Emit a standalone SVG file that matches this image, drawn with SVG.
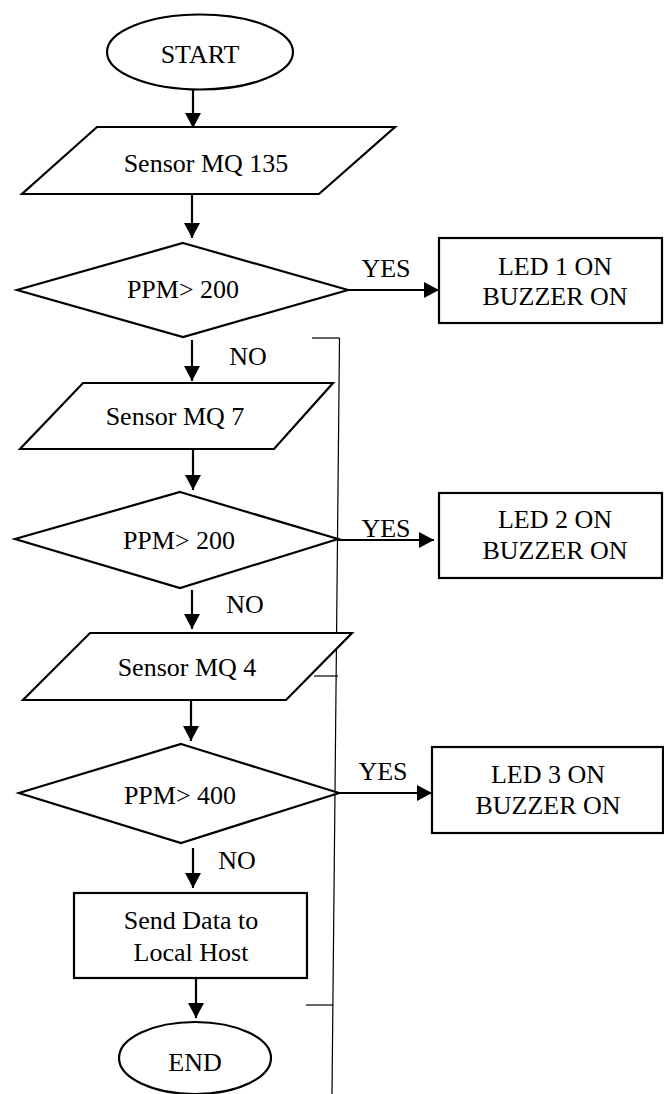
<svg xmlns="http://www.w3.org/2000/svg" width="664" height="1094" viewBox="0 0 664 1094">
<style>
.s{fill:#fff;stroke:#000;stroke-width:2.2}
.c{stroke:#000;stroke-width:2.2;fill:none}
.thin{stroke:#000;stroke-width:1.2;fill:none}
</style>
<defs>
<marker id="ah" markerUnits="userSpaceOnUse" markerWidth="16" markerHeight="16" viewBox="0 0 16 16" refX="15" refY="8" orient="auto">
<path d="M0,0 L15,8 L0,16 Z" fill="#000"/>
</marker>
</defs>
<rect width="664" height="1094" fill="#fff"/>
<g font-family="'Liberation Serif', 'Times New Roman', 'DejaVu Serif', serif" font-size="26" fill="#000" text-anchor="middle">
<g id="connectors">
<line class="c" x1="193" y1="90" x2="193" y2="128" marker-end="url(#ah)"/>
<line class="c" x1="192" y1="194" x2="192" y2="238" marker-end="url(#ah)"/>
<line class="c" x1="348" y1="290" x2="439" y2="290" marker-end="url(#ah)"/>
<line class="c" x1="192" y1="340" x2="192" y2="381" marker-end="url(#ah)"/>
<line class="c" x1="193" y1="449" x2="193" y2="490" marker-end="url(#ah)"/>
<line class="c" x1="338" y1="540" x2="434" y2="540" marker-end="url(#ah)"/>
<line class="c" x1="192" y1="590" x2="192" y2="629" marker-end="url(#ah)"/>
<line class="c" x1="191" y1="700" x2="191" y2="741" marker-end="url(#ah)"/>
<line class="c" x1="339" y1="793" x2="432" y2="793" marker-end="url(#ah)"/>
<line class="c" x1="193" y1="848" x2="193" y2="888" marker-end="url(#ah)"/>
<line class="c" x1="196" y1="978" x2="196" y2="1018" marker-end="url(#ah)"/>
<text x="386" y="277">YES</text>
<text x="386" y="537">YES</text>
<text x="383" y="780">YES</text>
<text x="248" y="365">NO</text>
<text x="245" y="613">NO</text>
<text x="237" y="869">NO</text>
<line class="thin" x1="339.5" y1="338" x2="332" y2="1094"/>
<line class="thin" x1="312" y1="338" x2="339.5" y2="338"/>
<line class="thin" x1="314" y1="676" x2="338" y2="676"/>
<line class="thin" x1="306" y1="1005" x2="333" y2="1005"/>
</g>
<g id="start">
<ellipse class="s" cx="200" cy="52" rx="93" ry="37.5"/>
<text x="200" y="63">START</text>
</g>
<g id="mq135">
<polygon class="s" points="97,127 395,127 319,194 22,194"/>
<text x="206" y="172">Sensor MQ 135</text>
</g>
<g id="ppm1">
<polygon class="s" points="183,243 348,290 183,337 17,290"/>
<text x="183" y="298">PPM&gt; 200</text>
</g>
<g id="led1">
<rect class="s" x="439" y="238" width="223" height="85"/>
<text x="555" y="275">LED 1 ON</text>
<text x="555" y="305">BUZZER ON</text>
</g>
<g id="mq7">
<polygon class="s" points="83,383 333,383 274,449 20,449"/>
<text x="175" y="425">Sensor MQ 7</text>
</g>
<g id="ppm2">
<polygon class="s" points="180,492 338,539 180,588 15,539"/>
<text x="179" y="549">PPM&gt; 200</text>
</g>
<g id="led2">
<rect class="s" x="439" y="493" width="223" height="85"/>
<text x="555" y="528">LED 2 ON</text>
<text x="555" y="559">BUZZER ON</text>
</g>
<g id="mq4">
<polygon class="s" points="90,633 352,633 286,700 23,700"/>
<text x="187" y="676">Sensor MQ 4</text>
</g>
<g id="ppm3">
<polygon class="s" points="181,744 339,793 181,843 19,793"/>
<text x="180" y="804">PPM&gt; 400</text>
</g>
<g id="led3">
<rect class="s" x="432" y="747" width="231" height="86"/>
<text x="548" y="783">LED 3 ON</text>
<text x="548" y="814">BUZZER ON</text>
</g>
<g id="send">
<rect class="s" x="74" y="893" width="233" height="85"/>
<text x="191" y="929">Send Data to</text>
<text x="191" y="961">Local Host</text>
</g>
<g id="end">
<ellipse class="s" cx="195" cy="1058" rx="76" ry="36"/>
<text x="195" y="1071">END</text>
</g>
</g>
</svg>
